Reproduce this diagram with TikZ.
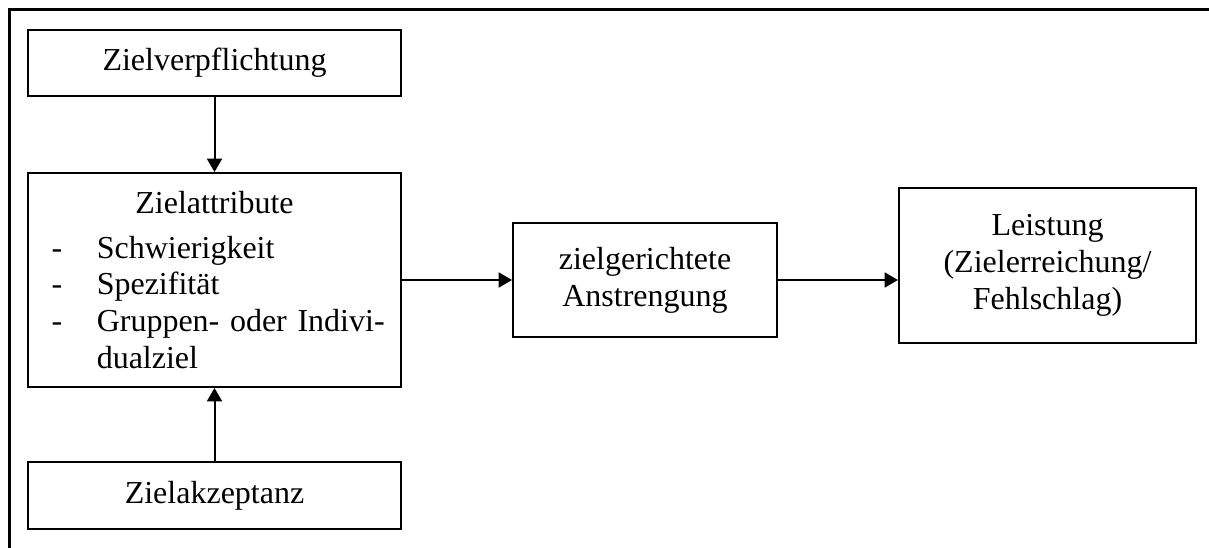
\documentclass[tikz,border=0pt]{standalone}
\usepackage{fontspec}
\setmainfont{Liberation Serif}
\usetikzlibrary{arrows.meta}

\tikzset{
  box/.style={draw,line width=0.75pt,inner sep=0pt,align=center,
    font=\fontsize{12}{13.8}\selectfont},
  arr/.style={line width=0.75pt,-{Triangle[length=5pt,width=5.6pt]}}
}
\newcommand{\dashitem}{\hspace*{4.9pt}\makebox[16.9pt][l]{-}}

\begin{document}
\begin{tikzpicture}[x=0.375pt,y=-0.375pt]
      \useasboundingbox (0,0) rectangle (1209,548);
      \draw[line width=0.9pt] (9.5,548) -- (9.5,9.5) -- (1209,9.5);

      \node[box,minimum width=139.9pt,minimum height=24.75pt] (verpf) at (214.5,63) {Zielverpflichtung};
      \node[box,minimum width=139.9pt,minimum height=80.25pt,
        text width=131.9pt,align=left,inner xsep=4pt] (attr) at (214.5,280)
        {\makebox[\linewidth]{Zielattribute}\\[3pt]
         \dashitem Schwierigkeit\\
         \dashitem Spezifität\\
         \dashitem Gruppen- oder Indivi-\\
         \hspace*{21.8pt}dualziel};
      \node[box,minimum width=139.9pt,minimum height=25.1pt] (akzept) at (214.5,495.5) {Zielakzeptanz};
      \node[box,minimum width=99pt,minimum height=42.75pt] (anstr) at (645,280) {zielgerichtete\\Anstrengung};
      \node[box,minimum width=111.4pt,minimum height=58.1pt] (leist) at (1047.5,265.5)
        {Leistung\\(Zielerreichung/\\Fehlschlag)};

      \draw[arr] (verpf) -- (attr);
      \draw[arr] (akzept) -- (attr);
      \draw[arr] (attr) -- (anstr);
      \draw[arr] (anstr) -- (anstr.east -| leist.west);
    \end{tikzpicture}
\end{document}
